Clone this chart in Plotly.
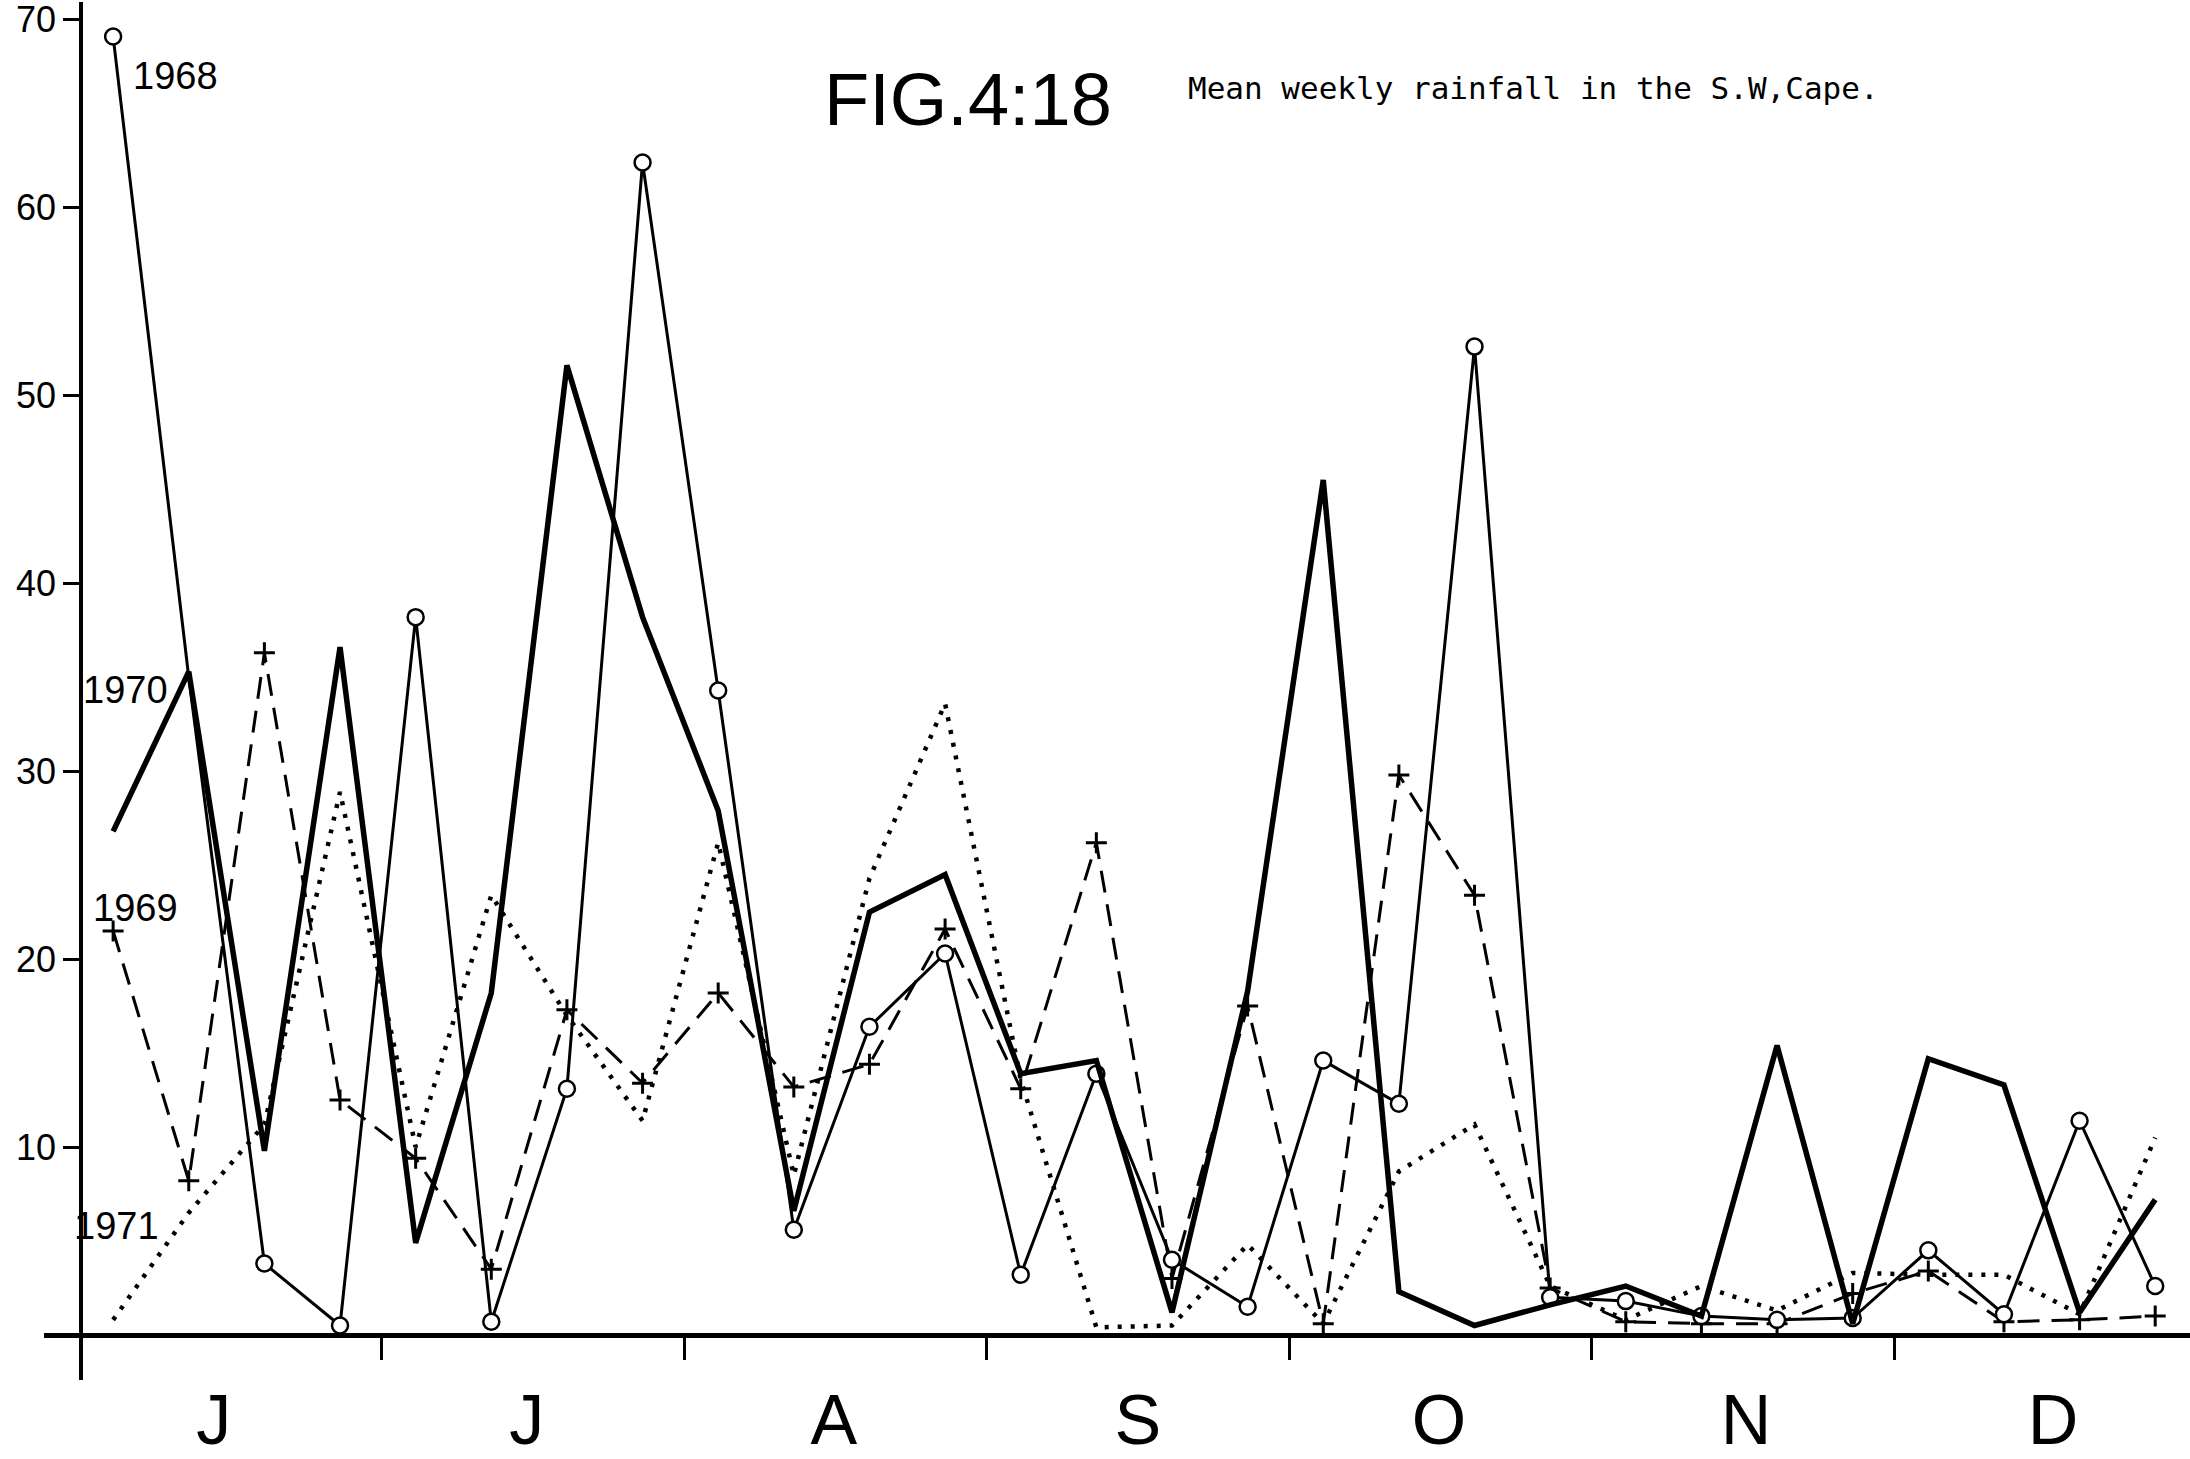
import plotly.graph_objects as go

# Weekly rainfall (mm), one value per week, June to December
weeks = list(range(28))
rain_1968 = [69.1, 35.0, 3.8, 0.5, 38.2, 0.7, 13.1, 62.4, 34.3, 5.6, 16.4, 20.3, 3.2, 13.9,
             4.0, 1.5, 14.6, 12.3, 52.6, 2.0, 1.8, 1.0, 0.8, 0.9, 4.5, 1.1, 11.4, 2.6]
rain_1969 = [21.5, 8.2, 36.3, 12.5, 9.4, 3.5, 17.3, 13.4, 18.2, 13.2, 14.4, 21.6, 13.1, 26.2,
             3.0, 17.5, 0.6, 29.8, 23.4, 2.5, 0.7, 0.6, 0.6, 2.2, 3.4, 0.7, 0.8, 1.0]
rain_1970 = [26.8, 35.3, 9.8, 36.6, 4.9, 18.2, 51.6, 38.2, 27.9, 6.6, 22.5, 24.5, 13.9, 14.6,
             1.2, 18.3, 45.5, 2.3, 0.5, 1.6, 2.6, 1.0, 15.4, 0.6, 14.7, 13.3, 1.2, 7.2]
rain_1971 = [0.8, 6.5, 11.2, 28.9, 10.0, 23.4, 17.0, 11.4, 26.2, 8.5, 24.3, 33.6, 13.6, 0.4,
             0.5, 4.8, 0.6, 8.7, 11.2, 2.6, 0.8, 2.6, 1.3, 3.3, 3.2, 3.2, 1.1, 10.5]

# Month labels and the week positions they sit at, plus month boundaries
months = ["J", "J", "A", "S", "O", "N", "D"]
month_label_weeks = [1.33, 5.47, 9.53, 13.55, 17.53, 21.59, 25.65]
month_boundaries = [3.55, 7.55, 11.55, 15.55, 19.55, 23.55]
y_ticks = [10, 20, 30, 40, 50, 60, 70]

# Year labels written beside the start of each line
year_labels = ["1968", "1970", "1969", "1971"]
year_label_x = [0.82, 0.16, 0.29, 0.04]
year_label_y = [67.0, 34.3, 22.7, 5.8]

INK = "black"
FONT = "Liberation Sans"

# the 1968 circle is left off where its line merely passes the 1970 point
circle_sizes = [0 if w == 1 else 16 for w in weeks]

fig = go.Figure()

fig.add_trace(go.Scatter(
    x=weeks, y=rain_1971, mode="lines",
    line=dict(color=INK, width=4.5, dash="4px,9px"),
    name="1971"))

fig.add_trace(go.Scatter(
    x=weeks, y=rain_1969, mode="lines+markers",
    line=dict(color=INK, width=3, dash="22px,12px"),
    marker=dict(symbol="cross-thin", size=15, color=INK,
                line=dict(color=INK, width=3)),
    name="1969"))

fig.add_trace(go.Scatter(
    x=weeks, y=rain_1968, mode="lines+markers",
    line=dict(color=INK, width=3),
    marker=dict(symbol="circle", size=circle_sizes, color="white", opacity=1,
                line=dict(color=INK, width=2.5)),
    name="1968"))

fig.add_trace(go.Scatter(
    x=weeks, y=rain_1970, mode="lines",
    line=dict(color=INK, width=5.5),
    name="1970"))

for txt, lx, ly in zip(year_labels, year_label_x, year_label_y):
    fig.add_annotation(x=lx, y=ly, xref="x", yref="y", text=txt, showarrow=False,
                       font=dict(family=FONT, size=38, color=INK))

fig.add_annotation(x=0.4306, y=0.9295, xref="paper", yref="paper", text="FIG.4:18",
                   showarrow=False, xanchor="center", yanchor="middle",
                   font=dict(family=FONT, size=74, color=INK))
fig.add_annotation(x=0.5322, y=0.9373, xref="paper", yref="paper",
                   text="Mean weekly rainfall in the S.W,Cape.",
                   showarrow=False, xanchor="left", yanchor="middle",
                   font=dict(family="DejaVu Sans Mono", size=31, color=INK))

fig.update_layout(
    width=2190, height=1459,
    margin=dict(l=44, r=0, t=0, b=55),
    plot_bgcolor="white", paper_bgcolor="white",
    showlegend=False,
    xaxis=dict(
        range=[-0.914, 27.46], anchor="free", position=0.03272,
        showline=True, linewidth=5, linecolor=INK,
        showgrid=False, zeroline=False,
        tickmode="array", tickvals=month_label_weeks, ticktext=months,
        ticks="", ticklabelstandoff=22,
        tickfont=dict(family=FONT, size=70, color=INK),
        minor=dict(tickmode="array", tickvals=month_boundaries, ticks="outside",
                   ticklen=22, tickwidth=3, tickcolor=INK, showgrid=False),
    ),
    yaxis=dict(
        range=[-2.4, 70.94], anchor="free", position=0.01724,
        showline=True, linewidth=3.5, linecolor=INK,
        showgrid=False, zeroline=False,
        tickmode="array", tickvals=y_ticks,
        ticks="outside", ticklen=16, tickwidth=3, tickcolor=INK,
        ticklabeloverflow="allow",
        tickfont=dict(family=FONT, size=36, color=INK),
    ),
)

fig.write_html("out.html")
